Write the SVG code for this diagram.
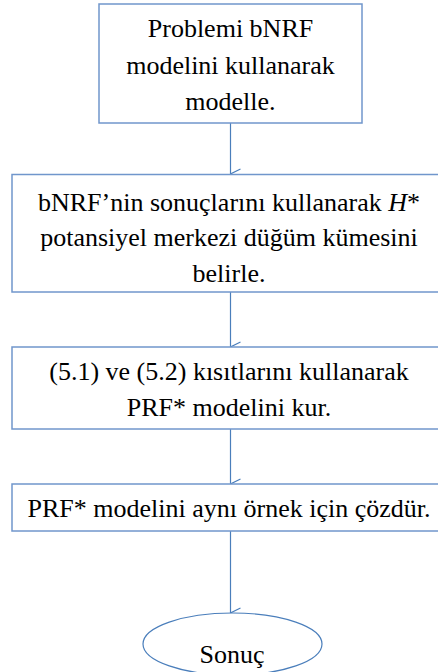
<svg xmlns="http://www.w3.org/2000/svg" width="438" height="672" viewBox="0 0 438 672">
<style>
.box{fill:#fff;stroke:#7096cc;stroke-width:1.5}
.t{font-family:'Liberation Serif','Times New Roman',serif;font-size:26px;fill:#000;text-anchor:middle}
.c{fill:none;stroke:#4a7ebb;stroke-width:1.2}
</style>
<defs>
<marker id="ah" viewBox="0 0 12 12" refX="6" refY="11" markerWidth="12" markerHeight="12" markerUnits="userSpaceOnUse" orient="auto-start-reverse">
<path d="M1,1 L6,11 L11,1" fill="none" stroke="#4a7ebb" stroke-width="1.2"/>
</marker>
</defs>
<rect width="438" height="672" fill="#fff"/>
<g id="connectors">
<line class="c" x1="230.5" y1="123" x2="230.5" y2="174" marker-end="url(#ah)"/>
<line class="c" x1="230.5" y1="292" x2="230.5" y2="347" marker-end="url(#ah)"/>
<line class="c" x1="230.5" y1="429" x2="230.5" y2="484" marker-end="url(#ah)"/>
<line class="c" x1="230.5" y1="531" x2="230.5" y2="613" marker-end="url(#ah)"/>
</g>
<g id="n1">
<rect class="box" x="99" y="4" width="263" height="119"/>
<text class="t" x="230.5" y="37">Problemi bNRF</text>
<text class="t" x="230.5" y="74">modelini kullanarak</text>
<text class="t" x="230.5" y="110">modelle.</text>
</g>
<g id="n2">
<rect class="box" x="12" y="174.5" width="436" height="117.5"/>
<text class="t" x="229" y="211">bNRF’nin sonuçlarını kullanarak  <tspan font-style="italic">H</tspan>*</text>
<text class="t" x="229" y="246">potansiyel merkezi düğüm kümesini</text>
<text class="t" x="229" y="282">belirle.</text>
</g>
<g id="n3">
<rect class="box" x="12" y="347" width="436" height="82"/>
<text class="t" x="229" y="380">(5.1) ve (5.2) kısıtlarını kullanarak</text>
<text class="t" x="229" y="416">PRF* modelini kur.</text>
</g>
<g id="n4">
<rect class="box" x="12" y="484" width="436" height="47"/>
<text class="t" x="229" y="517">PRF* modelini aynı örnek için çözdür.</text>
</g>
<g id="n5">
<ellipse cx="232.5" cy="644" rx="89.5" ry="31" fill="#fff" stroke="#4a7ebb" stroke-width="1.2"/>
<text class="t" x="232" y="663">Sonuç</text>
</g>
</svg>
